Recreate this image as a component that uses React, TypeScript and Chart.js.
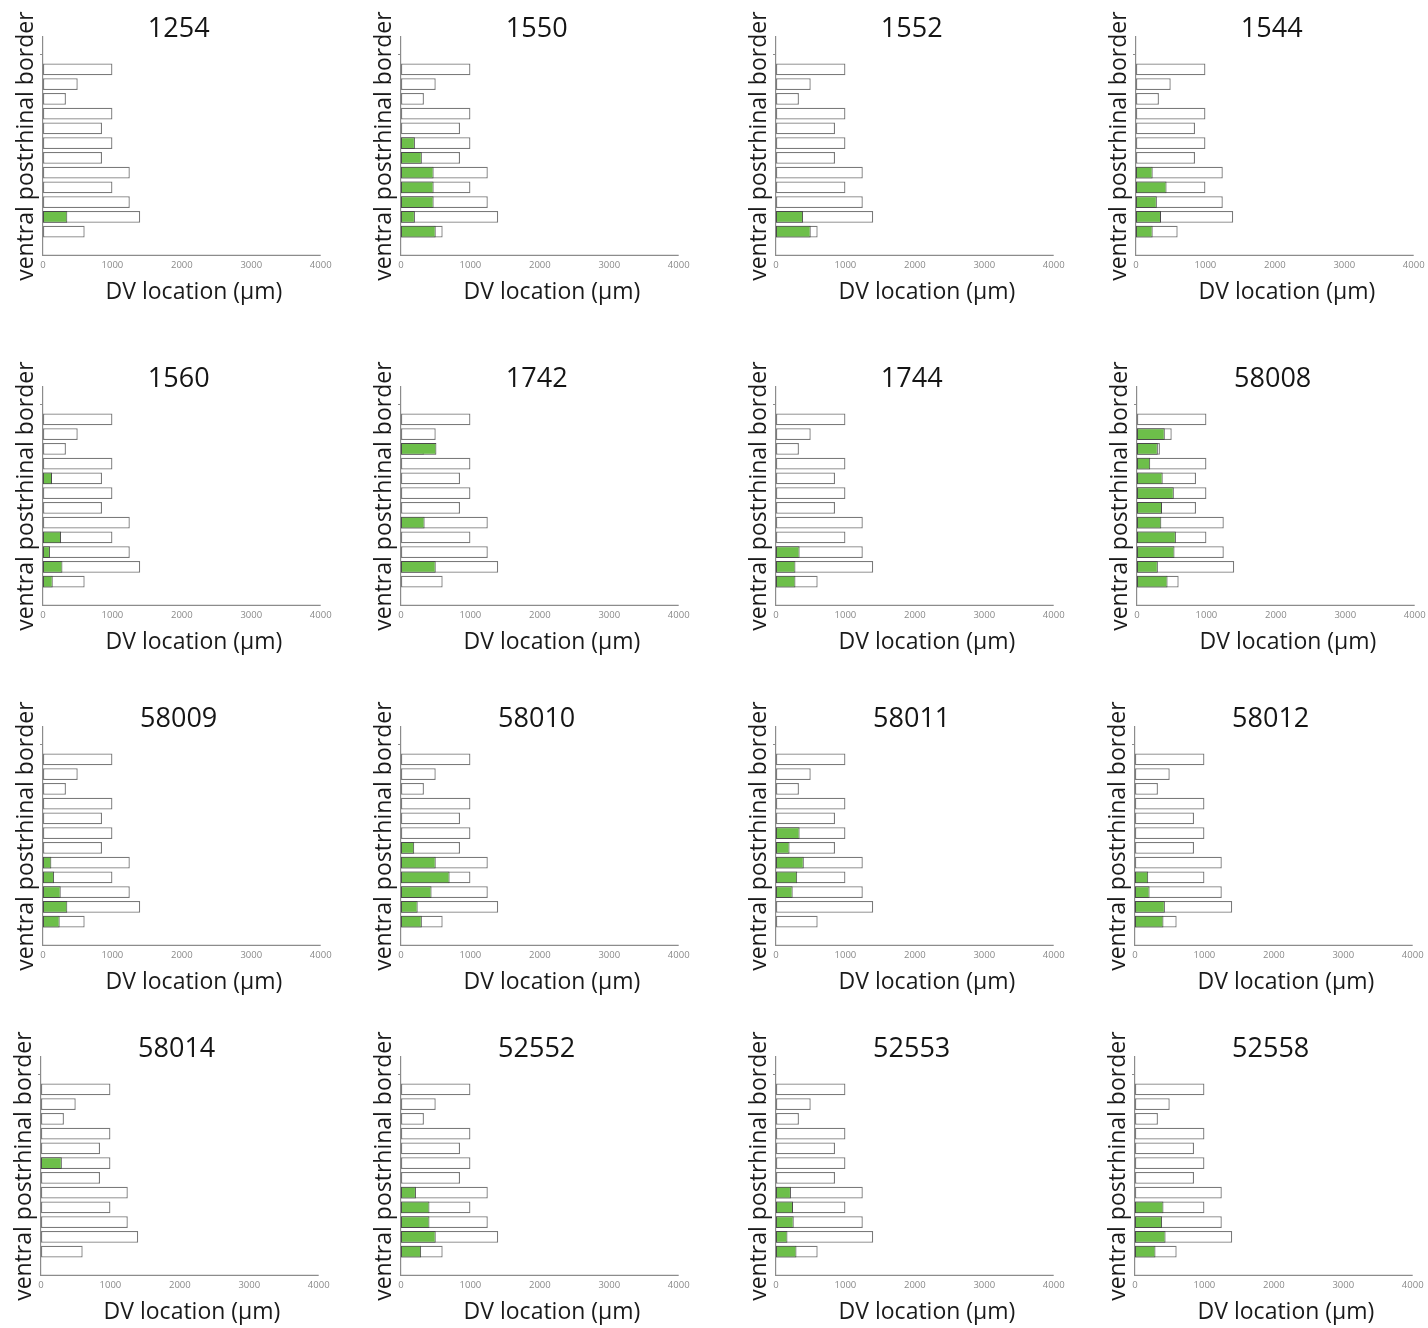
import React, { useEffect, useRef } from "react";
import { Chart, registerables } from "chart.js";

Chart.register(...registerables);

// ---------------- data ----------------
const panelIds = [
  "1254", "1550", "1552", "1544",
  "1560", "1742", "1744", "58008",
  "58009", "58010", "58011", "58012",
  "58014", "52552", "52553", "52558",
];

// section rows (top = 1 ... bottom = 12)
const sectionRows = [1, 2, 3, 4, 5, 6, 7, 8, 9, 10, 11, 12];

// DV extent of ventral postrhinal border per section (µm), white outline bars
const borderExtent = [1000, 500, 330, 1000, 850, 1000, 850, 1250, 1000, 1250, 1400, 600];

// labelled (green) extent per section (µm), 0 = none
const green1254 = [0, 0, 0, 0, 0, 0, 0, 0, 0, 0, 350, 0];
const green1550 = [0, 0, 0, 0, 0, 200, 300, 470, 470, 470, 200, 500];
const green1552 = [0, 0, 0, 0, 0, 0, 0, 0, 0, 0, 390, 500];
const green1544 = [0, 0, 0, 0, 0, 0, 0, 240, 440, 300, 360, 240];
const green1560 = [0, 0, 0, 0, 130, 0, 0, 0, 260, 100, 280, 140];
const green1742 = [0, 0, 510, 0, 0, 0, 0, 340, 0, 0, 500, 0];
const green1744 = [0, 0, 0, 0, 0, 0, 0, 0, 0, 340, 280, 280];
const green58008 = [0, 400, 300, 190, 370, 530, 360, 350, 560, 540, 300, 440];
const green58009 = [0, 0, 0, 0, 0, 0, 0, 120, 160, 255, 350, 240];
const green58010 = [0, 0, 0, 0, 0, 0, 190, 500, 700, 440, 240, 300];
const green58011 = [0, 0, 0, 0, 0, 340, 195, 400, 305, 240, 0, 0];
const green58012 = [0, 0, 0, 0, 0, 0, 0, 0, 190, 210, 430, 410];
const green58014 = [0, 0, 0, 0, 0, 300, 0, 0, 0, 0, 0, 0];
const green52552 = [0, 0, 0, 0, 0, 0, 0, 215, 410, 410, 500, 290];
const green52553 = [0, 0, 0, 0, 0, 0, 0, 215, 245, 255, 165, 295];
const green52558 = [0, 0, 0, 0, 0, 0, 0, 0, 410, 390, 440, 295];

const greenSeries = [
  green1254, green1550, green1552, green1544,
  green1560, green1742, green1744, green58008,
  green58009, green58010, green58011, green58012,
  green58014, green52552, green52553, green52558,
];

const xTickValues = [0, 1000, 2000, 3000, 4000];
const yTickValues = [0];

const xTitle = "DV location (µm)";
const yTitle = "ventral postrhinal border";

// ---------------- layout / style ----------------
const FONT = "'Open Sans', 'Noto Sans', sans-serif";
const AXIS = "#8c8c8c";
const GREEN = "#6dbf4a";
const W = 352;
const H = 313;
const AREA_LEFT = 43;
const AREA_BOTTOM = 256;
const AXIS_TITLE_SIZE = 23;
const X_MAX = 4350;
const Y_MIN = -1.2;
const Y_MAX = 13.6;

const colLeft = [
  [43, 401, 776, 1136],
  [43, 401, 776, 1137],
  [43, 401, 776, 1135],
  [41, 401, 776, 1135],
];
const rowBottom = [256, 606, 946, 1276];

function Panel({ title, green, left, top }: { title: string; green: number[]; left: number; top: number }) {
  const ref = useRef<HTMLCanvasElement>(null);
  useEffect(() => {
    const greenPts = sectionRows
      .map((r, i) => ({ x: green[i], y: r }))
      .filter((p) => p.x > 0);
    const whitePts = sectionRows.map((r, i) => ({ x: borderExtent[i], y: r }));
    const yScaleWidth = 3 + AXIS_TITLE_SIZE * 1.2;
    const chart = new Chart(ref.current as HTMLCanvasElement, {
      type: "bar",
      data: {
        datasets: [
          {
            type: "bar",
            data: greenPts as any,
            backgroundColor: GREEN,
            borderColor: "#4a4a4a",
            borderWidth: 1,
            borderSkipped: false,
            grouped: false,
            categoryPercentage: 1,
            barPercentage: 0.8,
          } as any,
          {
            type: "bar",
            data: whitePts as any,
            backgroundColor: "#ffffff",
            borderColor: "#7a7a7a",
            borderWidth: 1.3,
            borderSkipped: false,
            grouped: false,
            categoryPercentage: 1,
            barPercentage: 0.8,
          } as any,
          {
            type: "line",
            data: [
              { x: xTickValues[0], y: Y_MAX },
              { x: xTickValues[xTickValues.length - 1], y: Y_MAX },
            ] as any,
            borderColor: AXIS,
            borderWidth: 1.2,
            pointRadius: 0,
            clip: false as any,
          } as any,
        ],
      },
      options: {
        indexAxis: "y",
        responsive: false,
        animation: false,
        events: [],
        layout: { padding: { left: AREA_LEFT - yScaleWidth, right: W - 345, top: 0, bottom: 7.2 } },
        plugins: {
          legend: { display: false },
          tooltip: { enabled: false },
          title: {
            display: true,
            text: title,
            color: "#151515",
            font: { family: FONT, size: 27, weight: "normal", lineHeight: 0.54 },
            padding: { top: 22.4, bottom: 0 },
          },
        },
        scales: {
          x: {
            type: "linear",
            min: 0,
            max: X_MAX,
            offset: false,
            beginAtZero: false,
            afterBuildTicks: (s: any) => {
              s.ticks = xTickValues.map((v) => ({ value: v }));
            },
            grid: { display: false, drawTicks: false, offset: false },
            border: { display: false },
            ticks: {
              color: "#8a8a8a",
              font: { family: FONT, size: 9.5 },
              padding: 4.5,
              maxRotation: 0,
              autoSkip: false,
              callback: (v: any) => String(v),
            },
            title: {
              display: true,
              text: xTitle,
              color: "#1a1a1a",
              font: { family: FONT, size: AXIS_TITLE_SIZE, lineHeight: 1.2 },
              padding: { top: 2.5, bottom: 0 },
            },
          },
          y: {
            type: "linear",
            reverse: true,
            min: Y_MIN,
            max: Y_MAX,
            offset: false,
            beginAtZero: false,
            afterBuildTicks: (s: any) => {
              s.ticks = yTickValues.map((v) => ({ value: v }));
            },
            grid: { display: true, drawOnChartArea: false, drawTicks: true, tickLength: 3, color: AXIS, offset: false },
            border: { display: true, color: AXIS, width: 1.2 },
            ticks: { display: false },
            title: {
              display: true,
              text: yTitle,
              color: "#1a1a1a",
              font: { family: FONT, size: AXIS_TITLE_SIZE, lineHeight: 1.2 },
              padding: { top: 0, bottom: 0 },
            },
          },
        },
      } as any,
    });
    return () => chart.destroy();
  }, [title, green]);
  return (
    <canvas
      ref={ref}
      width={W}
      height={H}
      style={{ position: "absolute", left, top, width: W, height: H }}
    />
  );
}

export default function App() {
  return (
    <div
      style={{
        position: "absolute",
        left: 0,
        top: 0,
        width: 1428,
        height: 1328,
        overflow: "hidden",
        background: "#ffffff",
      }}
    >
      {panelIds.map((id, i) => {
        const r = Math.floor(i / 4);
        const c = i % 4;
        return (
          <Panel
            key={id}
            title={id}
            green={greenSeries[i]}
            left={colLeft[r][c] - AREA_LEFT}
            top={rowBottom[r] - AREA_BOTTOM}
          />
        );
      })}
    </div>
  );
}
